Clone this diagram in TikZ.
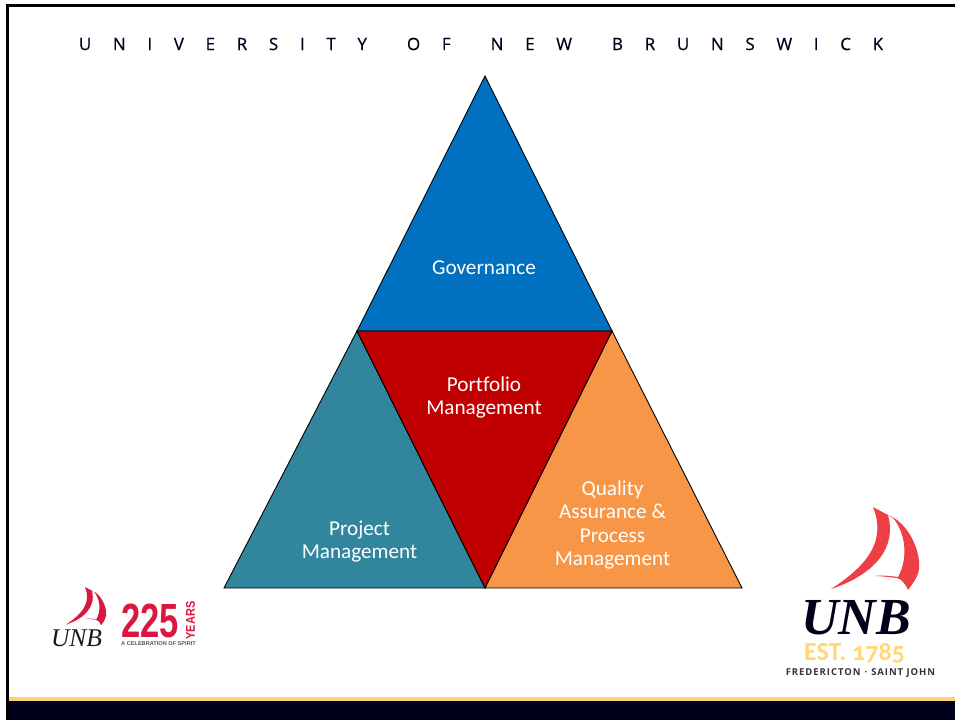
\documentclass[tikz,border=0pt]{standalone}
\usepackage{fontspec}
\usepackage{graphicx}
\setmainfont[Ligatures=NoCommon]{Carlito}
\newfontfamily\titlefont[LetterSpace=127.5,FakeBold=0.5]{Open Sans}
\newfontfamily\serifit{Liberation Serif}
\newfontfamily\estfont[Numbers=OldStyle]{Carlito}
\newfontfamily\placefont[LetterSpace=10]{Open Sans}
\newfontfamily\cond{Liberation Sans}
\definecolor{navy}{HTML}{00001A}
\definecolor{gold}{HTML}{FBD27A}
\definecolor{blueT}{HTML}{0070C0}
\definecolor{redT}{HTML}{C00000}
\definecolor{tealT}{HTML}{31859C}
\definecolor{orangeT}{HTML}{F79646}
\definecolor{sailA}{HTML}{EE3F46}
\definecolor{sailB}{HTML}{D9173F}
\definecolor{estcol}{HTML}{FFD873}
\definecolor{greyt}{HTML}{33333A}
\tikzset{
  tri/.style={draw=black,line width=0.9pt,line join=miter},
  lab/.style={text=white,font=\fontsize{21.2}{23.2}\selectfont,align=center,inner sep=0pt,anchor=center},
  free/.style={inner sep=0pt,anchor=center},
  sail/.pic={
    \fill (0,0) .. controls (12,30) and (0,55) .. (-42,82)
         .. controls (-5,70) and (25,45) .. (15,8) -- cycle;
    \fill (15,8) .. controls (36,16) and (48,45) .. (46,62)
         .. controls (45,70) and (40,76) .. (35,83)
         .. controls (32,76) and (28,72) .. (24,71)
         .. controls (15,70) and (8,69) .. (2,69)
         .. controls (10,68) and (18,69) .. (25,70)
         .. controls (36,50) and (32,25) .. (20,11) -- cycle;
  }
}
\begin{document}
\begin{tikzpicture}[x=1pt,y=-1pt]
\useasboundingbox (0,0) rectangle (955,720);
\fill[white] (0,0) rectangle (955,720);
% frame
\fill[black] (6,4) rectangle (955,7);
\fill[black] (6,4) rectangle (9,720);
% footer
\fill[gold] (9,697) rectangle (955,700.5);
\fill[navy] (9,700.5) rectangle (955,720);
% title
\node[free,text=navy,font=\titlefont\fontsize{17}{20}\selectfont] (title) at (481,44) {UNIVERSITY\hspace{40pt}OF\hspace{40pt}NEW\hspace{40pt}BRUNSWICK};
% triangles
\coordinate (apex) at (485,76);
\coordinate (ml) at (357,331);
\coordinate (mr) at (612,331);
\coordinate (bl) at (224,588);
\coordinate (bm) at (485,588);
\coordinate (br) at (742,588);
\filldraw[tri,fill=blueT] (apex) -- (mr) -- (ml) -- cycle;
\filldraw[tri,fill=tealT] (ml) -- (bm) -- (bl) -- cycle;
\filldraw[tri,fill=orangeT] (mr) -- (br) -- (bm) -- cycle;
\filldraw[tri,fill=redT] (ml) -- (mr) -- (bm) -- cycle;
\node[lab] (gov) at (484,267.5) {Governance};
\node[lab] (port) at (484,397.5) {Portfolio\\Management};
\node[lab] (proj) at (359.5,541.5) {Project\\Management};
\node[lab] (qual) at (612.5,525) {Quality\\Assurance \&\\Process\\Management};
% big logo
\pic[fill=sailA] at (873,507) {sail};
\node[free,text=navy,font=\serifit\itshape\bfseries\fontsize{52}{52}\selectfont] (unb) at (856,618) {UNB};
\node[free,text=estcol,font=\estfont\bfseries\fontsize{26}{26}\selectfont] (est) at (854.5,653) {EST. 1785};
\node[free,text=greyt,font=\placefont\bfseries\fontsize{9.5}{10}\selectfont] (place) at (860.5,673) {FREDERICTON\hspace{4pt}·\hspace{4pt}SAINT JOHN};
% small logo
\pic[fill=sailB,scale=0.46] at (85,587) {sail};
\node[free,text=black!90,font=\serifit\itshape\fontsize{25.5}{25}\selectfont] (unbs) at (76.5,638) {UNB};
\node[free,text=sailB,font=\cond\bfseries\fontsize{48}{48}\selectfont] (n225) at (150,621) {\scalebox{0.72}[1]{225}};
\node[free,text=sailB,font=\cond\bfseries\fontsize{11}{12}\selectfont,rotate=90] (years) at (190.5,620.5) {\scalebox{1.0}[1.15]{YEARS}};
\node[free,text=black!65,font=\cond\bfseries\fontsize{5.6}{6}\selectfont] (cel) at (158.5,643.5) {A CELEBRATION OF SPIRIT};
\end{tikzpicture}
\end{document}
